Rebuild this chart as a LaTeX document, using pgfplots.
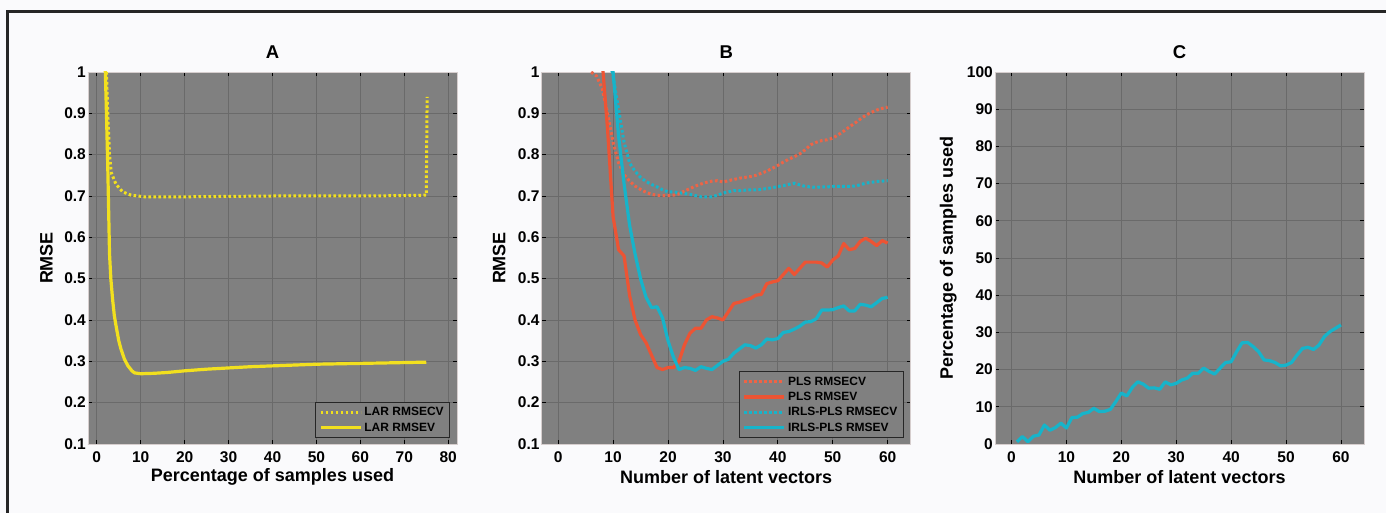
\documentclass[border=0pt]{standalone}
\usepackage{fontspec}
\setmainfont{Liberation Sans}
\usepackage{pgfplots}
\usepackage{pgfplotstable}
\pgfplotsset{compat=1.18}
\definecolor{bgpage}{RGB}{250,250,252}
\definecolor{axbg}{RGB}{128,128,128}
\definecolor{gridc}{RGB}{106,106,106}
\definecolor{boxc}{RGB}{214,206,206}
\definecolor{yel}{RGB}{242,224,30}
\definecolor{redc}{RGB}{236,84,52}
\definecolor{redd}{RGB}{238,100,70}
\definecolor{cyc}{RGB}{22,180,202}

\pgfplotstableread{
x y
1.9 1.02
2.2 0.90
2.5 0.77
2.9 0.56
3.2 0.50
3.6 0.45
4.0 0.41
4.4 0.385
5.0 0.35
5.5 0.33
6.3 0.305
7.1 0.289
8.0 0.277
8.6 0.272
10 0.270
13 0.271
16 0.273
20 0.277
25 0.281
30 0.284
35 0.287
40 0.289
45 0.291
50 0.293
55 0.294
60 0.295
65 0.296
70 0.297
75 0.298
}\larev

\pgfplotstableread{
x y
2.2 1.00
2.5 0.90
2.9 0.80
3.3 0.756
4.4 0.728
5.9 0.710
7.8 0.702
10.9 0.698
20 0.698
30 0.699
40 0.700
50 0.700
60 0.700
70 0.701
75 0.702
75.2 0.940
}\larecv

\pgfplotstableread{
x y
7 1.15
8 1.03
9 0.86
10 0.65
11 0.57
12 0.555
13 0.46
14 0.40
15 0.365
16 0.345
17 0.315
18 0.285
19 0.28
20 0.285
21 0.285
22 0.30
23 0.34
24 0.368
25 0.38
26 0.38
27 0.40
28 0.408
29 0.405
30 0.40
31 0.42
32 0.44
33 0.443
34 0.448
35 0.452
36 0.46
37 0.462
38 0.488
39 0.492
40 0.495
41 0.51
42 0.525
43 0.51
44 0.525
45 0.54
46 0.54
47 0.54
48 0.538
49 0.528
50 0.545
51 0.555
52 0.585
53 0.57
54 0.573
55 0.59
56 0.598
57 0.59
58 0.58
59 0.592
60 0.586
}\plsev

\pgfplotstableread{
x y
5 1.02
6 1.0
7 0.99
8 0.96
9 0.90
10 0.83
11 0.78
12 0.752
13 0.736
14 0.724
15 0.716
16 0.709
17 0.704
18 0.702
19 0.701
20 0.701
21 0.702
22 0.705
23 0.712
24 0.718
25 0.724
26 0.729
27 0.733
28 0.736
29 0.737
30 0.734
31 0.737
32 0.74
33 0.743
34 0.745
35 0.747
36 0.75
37 0.755
38 0.76
39 0.767
40 0.774
41 0.782
42 0.789
43 0.795
44 0.802
45 0.812
46 0.824
47 0.83
48 0.834
49 0.836
50 0.84
51 0.848
52 0.857
53 0.867
54 0.876
55 0.886
56 0.895
57 0.902
58 0.908
59 0.912
60 0.915
}\plsecv

\pgfplotstableread{
x y
9 1.05
10 0.99
11 0.91
12 0.83
13 0.78
14 0.76
15 0.745
16 0.735
17 0.728
18 0.722
19 0.715
20 0.71
21 0.71
22 0.708
23 0.706
24 0.704
25 0.701
26 0.698
27 0.698
28 0.698
29 0.702
30 0.707
31 0.71
32 0.713
33 0.713
34 0.714
35 0.715
36 0.715
37 0.716
38 0.718
39 0.72
40 0.723
41 0.725
42 0.728
43 0.731
44 0.727
45 0.723
46 0.722
47 0.721
48 0.722
49 0.722
50 0.723
51 0.723
52 0.723
53 0.723
54 0.724
55 0.727
56 0.731
57 0.733
58 0.735
59 0.736
60 0.737
}\irlsecv

\pgfplotstableread{
x y
9 1.15
10 1.0
11 0.845
12 0.73
13 0.63
14 0.56
15 0.50
16 0.455
17 0.43
18 0.432
19 0.405
20 0.35
21 0.31
22 0.28
23 0.285
24 0.283
25 0.278
26 0.287
27 0.283
28 0.28
29 0.29
30 0.30
31 0.305
32 0.32
33 0.33
34 0.34
35 0.338
36 0.332
37 0.34
38 0.354
39 0.352
40 0.355
41 0.37
42 0.372
43 0.378
44 0.385
45 0.395
46 0.396
47 0.403
48 0.424
49 0.424
50 0.425
51 0.43
52 0.434
53 0.422
54 0.422
55 0.438
56 0.436
57 0.432
58 0.442
59 0.452
60 0.455
}\irlsev

\pgfplotstableread{
x y
1 0.6
2 2.0
3 0.6
4 2.1
5 2.4
6 5.1
7 3.7
8 4.4
9 5.6
10 4.3
11 7.1
12 7.2
13 8.2
14 8.5
15 9.6
16 8.7
17 8.8
18 9.3
19 11.4
20 13.7
21 12.9
22 15.2
23 16.7
24 16.1
25 15.0
26 15.1
27 14.7
28 16.7
29 15.9
30 16.3
31 17.2
32 17.7
33 19.0
34 19.0
35 20.4
36 19.5
37 18.8
38 20.4
39 21.9
40 22.1
41 24.8
42 27.2
43 27.3
44 26.2
45 24.8
46 22.6
47 22.4
48 21.9
49 21.0
50 21.2
51 21.9
52 23.9
53 25.7
54 26.0
55 25.4
56 26.6
57 28.9
58 30.2
59 31.1
60 32.0
}\pctused

\pgfplotsset{
  every axis title shift=0pt,
  myax/.style={
    scale only axis, width=369pt, height=372pt,
    anchor=south west,
    axis background/.style={fill=axbg},
    axis line style={draw=boxc, line width=0.8pt},
    grid=major,
    major grid style={draw=gridc, line width=0.7pt},
    major tick style={draw=black, line width=0.8pt},
    major tick length=4pt,
    tick align=inside,
    /pgf/number format/assume math mode=true,
    ticklabel style={font=\bfseries\fontsize{15.5}{18}\selectfont},
    xticklabel style={inner sep=1pt, yshift=-6pt},
    yticklabel style={inner sep=1pt, xshift=-1pt},
    label style={font=\bfseries\fontsize{18}{21}\selectfont},
    title style={font=\bfseries\fontsize{18.5}{22}\selectfont, at={(axis description cs:0.5,1.0546)}, anchor=center},
    xlabel style={at={(axis description cs:0.5,-0.089)}, anchor=center},
    legend cell align=left,
    legend image code/.code={\draw[##1] (0pt,0pt) -- (40pt,0pt);},
    legend style={at={(axis description cs:0.981,0.016)}, anchor=south east,
      fill=axbg, draw=black!85, line width=0.6pt,
      font=\bfseries\fontsize{12}{13}\selectfont, row sep=1.5pt,
      inner xsep=4pt, inner ysep=3pt},
  },
  solidl/.style={line width=3.2pt, line join=round},
  dotl/.style={line width=3pt, dash pattern=on 2.6pt off 2.4pt},
}

\begin{document}
\begin{tikzpicture}
\fill[bgpage] (0pt,0pt) rectangle (1386pt,513pt);
\draw[line width=3pt, black!85] (7.5pt,-3pt) -- (7.5pt,501pt) -- (1390pt,501pt);

\begin{axis}[myax, at={(88pt,69pt)},
  title={A}, xlabel={Percentage of samples used}, ylabel={RMSE},
  ylabel style={at={(axis description cs:-0.1125,0.5)}, anchor=center},
  xmin=-2, xmax=82, ymin=0.1, ymax=1,
  xtick={0,10,...,80},
  ytick={0.1,0.2,0.3,0.4,0.5,0.6,0.7,0.8,0.9,1},
  yticklabels={0.1,0.2,0.3,0.4,0.5,0.6,0.7,0.8,0.9,1},
]
\addplot[yel, dotl] table {\larecv};
\addlegendentry{LAR RMSECV}
\addplot[yel, solidl] table {\larev};
\addlegendentry{LAR RMSEV}
\end{axis}

\begin{axis}[myax, at={(541.7pt,69pt)},
  title={B}, xlabel={Number of latent vectors}, ylabel={RMSE},
  ylabel style={at={(axis description cs:-0.115,0.5)}, anchor=center},
  xmin=-3, xmax=64.2, ymin=0.1, ymax=1,
  xtick={0,10,...,60},
  ytick={0.1,0.2,0.3,0.4,0.5,0.6,0.7,0.8,0.9,1},
  yticklabels={0.1,0.2,0.3,0.4,0.5,0.6,0.7,0.8,0.9,1},
]
\addplot[redd, dotl] table {\plsecv};
\addlegendentry{PLS RMSECV}
\addplot[redc, solidl] table {\plsev};
\addlegendentry{PLS RMSEV}
\addplot[cyc, dotl] table {\irlsecv};
\addlegendentry{IRLS-PLS RMSECV}
\addplot[cyc, solidl] table {\irlsev};
\addlegendentry{IRLS-PLS RMSEV}
\end{axis}

\begin{axis}[myax, at={(995pt,69pt)},
  title={C}, xlabel={Number of latent vectors}, ylabel={Percentage of samples used},
  ylabel style={at={(axis description cs:-0.1266,0.5)}, anchor=center},
  xmin=-3, xmax=64.2, ymin=0, ymax=100,
  xtick={0,10,...,60},
  ytick={0,10,...,100},
]
\addplot[cyc, solidl] table {\pctused};
\end{axis}

\pgfresetboundingbox
\useasboundingbox (0pt,0pt) rectangle (1386pt,513pt);
\end{tikzpicture}
\end{document}
